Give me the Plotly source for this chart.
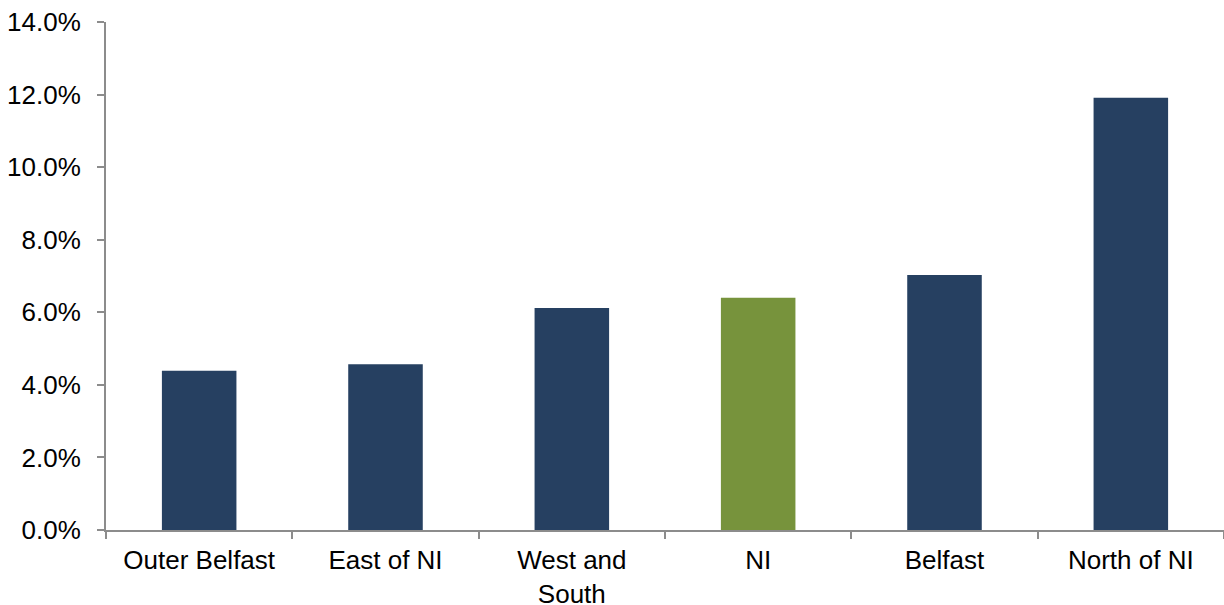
import plotly.graph_objects as go

# Regional rates (percent)
regions = ["Outer Belfast", "East of NI", "West and<br>South", "NI", "Belfast", "North of NI"]
rates = [4.39, 4.57, 6.12, 6.40, 7.03, 11.91]
bar_colors = ["#264061", "#264061", "#264061", "#77933C", "#264061", "#264061"]

y_ticks = [0, 2, 4, 6, 8, 10, 12, 14]
y_tick_labels = ["0.0%", "2.0%", "4.0%", "6.0%", "8.0%", "10.0%", "12.0%", "14.0%"]

axis_grey = "#8c8c8c"
font_family = "Liberation Sans, Arial, sans-serif"

fig = go.Figure(
    go.Bar(
        x=regions,
        y=rates,
        marker=dict(color=bar_colors, line=dict(width=0)),
        hoverinfo="x+y",
    )
)

fig.update_layout(
    width=1224,
    height=605,
    margin=dict(l=106, r=0, t=22, b=75),
    paper_bgcolor="white",
    plot_bgcolor="white",
    bargap=0.6,
    showlegend=False,
    font=dict(family=font_family, size=26, color="#000000"),
)

fig.update_xaxes(
    type="category",
    range=[-0.5, 5.5],
    automargin=False,
    showline=True,
    linecolor=axis_grey,
    linewidth=2,
    showgrid=False,
    ticks="outside",
    tickson="boundaries",
    ticklen=7,
    tickwidth=2,
    tickcolor=axis_grey,
    tickfont=dict(family=font_family, size=26, color="#000000"),
    ticklabelstandoff=6,
)

fig.update_yaxes(
    range=[0, 14],
    automargin=False,
    tickvals=y_ticks,
    ticktext=y_tick_labels,
    showline=True,
    linecolor=axis_grey,
    linewidth=2,
    showgrid=False,
    zeroline=False,
    ticks="outside",
    ticklen=7,
    tickwidth=2,
    tickcolor=axis_grey,
    tickfont=dict(family=font_family, size=26, color="#000000"),
    ticklabelstandoff=11,
)

fig.write_html("out.html")
